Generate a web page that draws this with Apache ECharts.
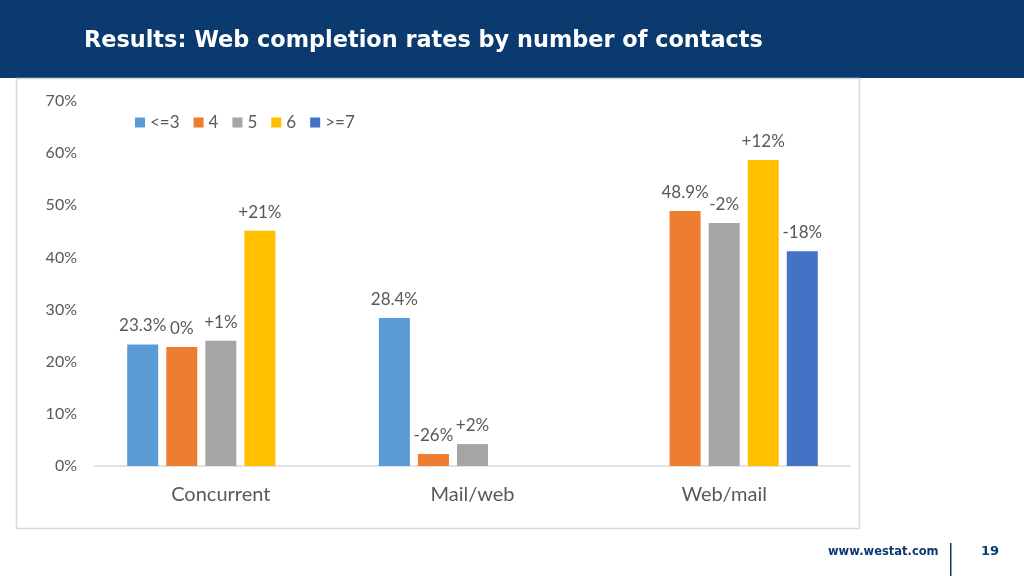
<!DOCTYPE html>
<html><head><meta charset="utf-8">
<script src="https://cdn.jsdelivr.net/npm/echarts@6/dist/echarts.min.js"></script>
<style>html,body{margin:0;padding:0;background:#fff}#c{width:1024px;height:576px}</style>
</head><body><div id="c"></div>
<script>
const categories = ['Concurrent', 'Mail/web', 'Web/mail'];
const seriesNames = ['<=3', '4', '5', '6', '>=7'];
const valuesLe3 = [23.3, 28.4, null];
const values4 = [22.8, 2.3, 48.9];
const values5 = [24.0, 4.2, 46.6];
const values6 = [45.1, null, 58.7];
const valuesGe7 = [null, null, 41.2];
const labelsLe3 = ['23.3%', '28.4%', ''];
const labels4 = ['0%', '-26%', '48.9%'];
const labels5 = ['+1%', '+2%', '-2%'];
const labels6 = ['+21%', '', '+12%'];
const labelsGe7 = ['', '', '-18%'];
const yTicks = [0, 10, 20, 30, 40, 50, 60, 70];

const colors = ['#5B9BD5', '#ED7D31', '#A5A5A5', '#FFC000', '#4472C4'];
const allValues = [valuesLe3, values4, values5, values6, valuesGe7];
const allLabels = [labelsLe3, labels4, labels5, labels6, labelsGe7];
const font = 'Lato, "Open Sans", sans-serif';

const chart = echarts.init(document.getElementById('c'));
chart.setOption({
  animation: false,
  color: colors,
  title: {
    text: 'Results: Web completion rates by number of contacts',
    left: 79, top: 25,
    textStyle: { color: '#ffffff', fontSize: 22.4, fontWeight: 'bold', fontFamily: '"DejaVu Sans", Verdana, sans-serif' }
  },
  graphic: [
    { type: 'rect', z: -10, shape: { x: 0, y: 0, width: 1024, height: 78 }, style: { fill: '#0B3A6E' } },
    { type: 'rect', z: -10, shape: { x: 16.5, y: 78.5, width: 843, height: 450 }, style: { fill: '#ffffff', stroke: '#d9d9d9', lineWidth: 1.5 } },
    { type: 'text', left: 828, top: 546, style: { text: 'www.westat.com', fill: '#0B3A6E', font: 'bold 11.5px "DejaVu Sans", sans-serif' } },
    { type: 'rect', shape: { x: 950, y: 543, width: 1.5, height: 33 }, style: { fill: '#0B3A6E' } },
    { type: 'text', left: 981, top: 545, style: { text: '19', fill: '#0B3A6E', font: 'bold 13px "DejaVu Sans", sans-serif' } }
  ],
  legend: {
    data: seriesNames,
    left: 130, top: 109,
    icon: 'rect', itemWidth: 10, itemHeight: 10, itemGap: 14,
    textStyle: { color: '#595959', fontSize: 17, fontFamily: font }
  },
  grid: { left: 95, right: 174, top: 101, bottom: 110 },
  xAxis: {
    type: 'category', data: categories,
    axisLine: { lineStyle: { color: '#d9d9d9', width: 1.5 } },
    axisTick: { show: false },
    axisLabel: { color: '#595959', fontSize: 20, margin: 19, fontFamily: font }
  },
  yAxis: {
    type: 'value', min: 0, max: 70, interval: 10,
    splitLine: { show: false },
    axisLine: { show: false },
    axisLabel: { formatter: '{value}%', color: '#595959', fontSize: 16, margin: 18, fontFamily: font }
  },
  series: seriesNames.map((name, i) => ({
    name: name, type: 'bar',
    barWidth: 31, barGap: '26%',
    data: allValues[i],
    label: {
      show: true, position: 'top', distance: 10,
      color: '#595959', fontSize: 17, fontFamily: font,
      formatter: p => allLabels[i][p.dataIndex]
    }
  }))
});
</script></body></html>
